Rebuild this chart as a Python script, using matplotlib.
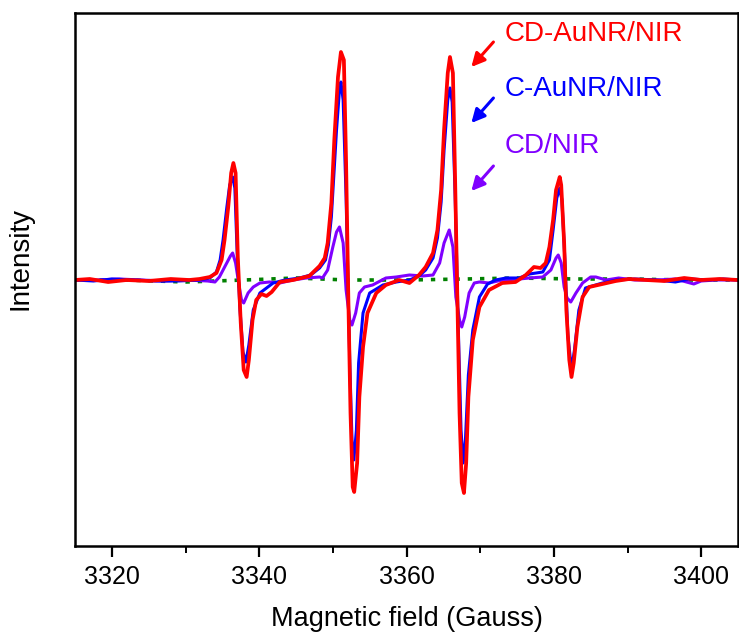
import matplotlib
matplotlib.use('Agg')
import matplotlib.pyplot as plt
from matplotlib.ticker import MultipleLocator

plt.rcParams['font.family'] = ['Liberation Sans', 'DejaVu Sans']

# EPR spectra (field in Gauss, intensity in a.u.)
red_field = [3315.0, 3317.0, 3319.5, 3322.0, 3325.0, 3328.0, 3330.5, 3331.9, 3333.3, 3334.2,
             3334.9, 3335.3, 3335.8, 3336.2, 3336.5, 3336.8, 3337.1, 3337.5, 3337.9, 3338.3,
             3338.6, 3339.1, 3339.6, 3340.3, 3341.0, 3341.7, 3342.8, 3344.6, 3346.8, 3348.2,
             3348.9, 3349.3, 3349.8, 3350.2, 3350.7, 3351.1, 3351.5, 3351.8, 3352.1, 3352.4,
             3352.7, 3352.9, 3353.3, 3353.6, 3354.1, 3354.7, 3355.9, 3357.2, 3359.0, 3360.4,
             3361.7, 3362.6, 3363.6, 3364.2, 3364.7, 3365.1, 3365.6, 3365.9, 3366.3, 3366.6,
             3366.9, 3367.2, 3367.5, 3367.8, 3368.1, 3368.4, 3369.0, 3369.9, 3371.2, 3373.0,
             3374.8, 3376.2, 3377.3, 3378.2, 3378.9, 3379.4, 3379.9, 3380.3, 3380.8, 3381.0,
             3381.4, 3381.7, 3382.1, 3382.4, 3382.7, 3383.2, 3383.9, 3384.8, 3386.6, 3388.4,
             3390.2, 3392.5, 3395.0, 3397.7, 3400.0, 3402.5, 3405.0]
red_int = [0, 1, -2, 0, -1, 1, 0, 1, 3, 7,
           20, 40, 73, 107, 117, 107, 23, -43, -90, -97,
           -80, -40, -20, -14, -16, -12, -2, 0, 4, 14,
           22, 37, 77, 140, 203, 228, 220, 117, -17, -133,
           -207, -212, -183, -117, -67, -33, -13, -5, 0, -3,
           5, 13, 27, 50, 90, 150, 207, 223, 207, 100,
           -17, -133, -203, -213, -183, -117, -60, -27, -10, -3,
           -2, 5, 13, 12, 17, 33, 60, 90, 103, 95,
           37, -30, -80, -97, -83, -47, -17, -7, -4, -1,
           1, 0, -1, 2, 0, 1, 0]

blue_field = [3315.0, 3317.5, 3320.0, 3323.0, 3326.0, 3329.0, 3331.9, 3333.3, 3334.2, 3334.7,
              3335.1, 3335.6, 3336.0, 3336.4, 3336.7, 3337.0, 3337.4, 3337.8, 3338.2, 3338.6,
              3339.2, 3340.1, 3341.0, 3341.9, 3343.5, 3345.5, 3347.0, 3348.2, 3349.0, 3349.4,
              3349.8, 3350.5, 3350.9, 3351.1, 3351.4, 3351.8, 3352.3, 3352.6, 3352.85, 3353.2,
              3353.5, 3354.1, 3355.0, 3356.8, 3358.6, 3360.4, 3361.7, 3362.6, 3363.6, 3364.2,
              3364.7, 3365.1, 3365.6, 3365.9, 3366.2, 3366.6, 3367.0, 3367.4, 3367.7, 3368.0,
              3368.4, 3369.0, 3369.9, 3371.0, 3372.1, 3373.5, 3375.3, 3376.7, 3378.5, 3379.4,
              3379.9, 3380.4, 3380.8, 3381.1, 3381.5, 3381.9, 3382.4, 3382.8, 3383.4, 3384.3,
              3386.6, 3388.5, 3391.0, 3394.0, 3396.5, 3398.5, 3401.0, 3403.0, 3405.0]
blue_int = [0, -1, 1, 0, -1, -1, 0, 2, 8, 20,
            40, 72, 95, 103, 92, 30, -30, -72, -82, -65,
            -30, -13, -8, -3, 0, 2, 5, 12, 20, 35,
            63, 150, 190, 198, 180, 83, -83, -160, -180, -150,
            -83, -33, -13, -5, -2, 0, 4, 10, 22, 42,
            78, 130, 180, 192, 178, 85, -40, -150, -183, -160,
            -95, -50, -17, -4, 0, 2, 2, 6, 8, 20,
            50, 82, 92, 80, 20, -55, -90, -70, -30, -8,
            -3, 0, 1, 0, -2, 1, 0, 1, 0]

purple_field = [3315.0, 3318.0, 3321.0, 3324.0, 3327.0, 3330.0, 3333.0, 3334.0, 3334.6, 3335.6,
                3336.1, 3336.4, 3336.8, 3337.3, 3337.6, 3337.9, 3338.5, 3339.2, 3340.1, 3341.4,
                3342.8, 3344.6, 3346.4, 3348.2, 3348.6, 3349.3, 3350.0, 3350.5, 3350.9, 3351.4,
                3351.8, 3352.3, 3352.6, 3353.1, 3353.6, 3354.3, 3355.4, 3357.2, 3358.6, 3360.4,
                3362.2, 3363.6, 3364.5, 3365.1, 3365.8, 3366.3, 3366.7, 3367.2, 3367.5, 3367.9,
                3368.5, 3369.2, 3369.9, 3371.2, 3373.0, 3375.3, 3376.7, 3378.5, 3379.6, 3380.3,
                3380.6, 3381.0, 3381.4, 3381.8, 3382.3, 3383.0, 3383.9, 3385.0, 3385.7, 3387.1,
                3388.8, 3391.0, 3394.0, 3396.5, 3398.0, 3399.0, 3400.0, 3402.0, 3405.0]
purple_int = [0, 0, 1, 0, -1, 0, -1, -2, 3, 17,
              24, 27, 17, -7, -20, -23, -13, -7, -3, -2,
              -3, 0, 2, 3, 2, 10, 33, 48, 53, 37,
              -10, -40, -45, -33, -13, -7, -5, 2, 3, 5,
              4, 5, 17, 37, 50, 33, -17, -40, -47, -37,
              -13, -3, -2, -3, 0, 1, 2, 3, 10, 22,
              25, 17, -7, -18, -22, -13, -3, 3, 3, 0,
              2, 0, 0, 1, -2, -4, -1, 0, 0]

green_field = [3315, 3322, 3330, 3338, 3345, 3352, 3360, 3368, 3375, 3383, 3390, 3398, 3405]
green_int = [0, 0, -2, 0, 2, 0, 0, 1, 2, 1, 1, 0, 0]

labels = ['CD-AuNR/NIR', 'C-AuNR/NIR', 'CD/NIR']
colors = ['#ff0000', '#0000ff', '#8000ff']

fig, ax = plt.subplots(figsize=(7.39, 6.37), dpi=100)
fig.subplots_adjust(left=75 / 739, right=738 / 739, top=1 - 12.5 / 637, bottom=1 - 546 / 637)

ax.plot(green_field, green_int, color='#008000', lw=2.6, linestyle=(0, (1.2, 2.2)))
ax.plot(purple_field, purple_int, color=colors[2], lw=2.2)
ax.plot(blue_field, blue_int, color=colors[1], lw=2.2)
ax.plot(red_field, red_int, color=colors[0], lw=2.7)

# labels with small arrows pointing down-left
text_y = [246, 191, 134]
arrow_top = [238, 182, 114]
for lab, c, ty, at in zip(labels, colors, text_y, arrow_top):
    ax.text(3373.3, ty, lab, color=c, fontsize=20, va='center', ha='left')
    ax.annotate('', xy=(3368.8, at - 25), xytext=(3371.8, at),
                arrowprops=dict(arrowstyle='-|>', color=c, lw=2.2,
                                mutation_scale=20, shrinkA=0, shrinkB=0))

ax.set_xlim(3315, 3405)
ax.set_ylim(-266, 267.5)
ax.set_xticks([3320, 3340, 3360, 3380, 3400])
ax.xaxis.set_minor_locator(MultipleLocator(10))
ax.set_yticks([])
ax.tick_params(axis='x', which='major', length=8, width=1.6, labelsize=18, pad=6)
ax.tick_params(axis='x', which='minor', length=5, width=1.4)
for s in ax.spines.values():
    s.set_linewidth(1.8)

ax.set_xlabel('Magnetic field (Gauss)', fontsize=19.5, labelpad=12)
ax.set_ylabel('Intensity', fontsize=20)
ax.yaxis.set_label_coords(-0.062, 0.538)

plt.savefig('out.png', dpi=100)
